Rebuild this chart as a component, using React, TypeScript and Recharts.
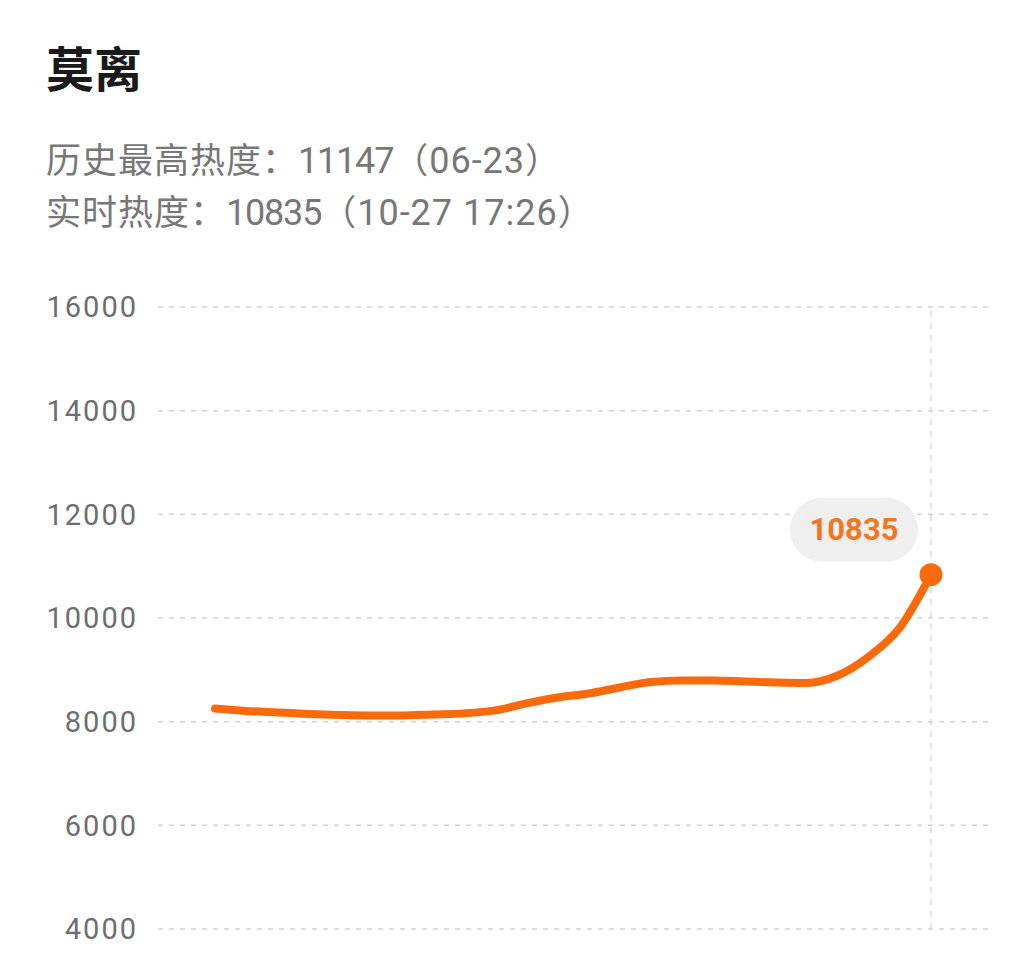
import React from 'react';
import { LineChart, Line, XAxis, YAxis, CartesianGrid, ReferenceLine } from 'recharts';

const title = '莫离';
const peakLabel = '历史最高热度：';
const peakValue = 11147;
const peakDate = '06-23';
const liveLabel = '实时热度：';
const liveValue = 10835;
const liveTime = '10-27 17:26';

const times = [
  '10-26 18:00', '10-26 19:00', '10-26 20:00', '10-26 21:00', '10-26 22:00', '10-26 23:00',
  '10-27 00:00', '10-27 01:00', '10-27 02:00', '10-27 03:00', '10-27 04:00', '10-27 05:00',
  '10-27 06:00', '10-27 07:00', '10-27 08:00', '10-27 09:00', '10-27 10:00', '10-27 11:00',
  '10-27 12:00', '10-27 13:00', '10-27 14:00', '10-27 15:00', '10-27 16:00', '10-27 17:26',
];
const heat = [
  8256, 8208, 8179, 8150, 8131, 8121, 8121, 8140, 8160, 8217, 8352, 8467,
  8544, 8660, 8765, 8794, 8794, 8775, 8756, 8746, 8890, 9256, 9813, 10835,
];
const yTicks = [4000, 6000, 8000, 10000, 12000, 14000, 16000];

const data = times.map((t, i) => ({ time: t, heat: heat[i] }));

const ORANGE = '#fa6a0a';
const NUM_FONT = "Roboto, 'Noto Sans CJK SC', sans-serif";
const CJK_FONT = "'Noto Sans CJK SC', Roboto, sans-serif";

const LastDot = (props: any) => {
  const { cx, cy, index, value } = props;
  if (index !== data.length - 1) return <g key={`d-${index}`} />;
  return (
    <g key={`d-${index}`}>
      <rect x={cx - 141} y={cy - 77} width={128} height={64} rx={32} fill="#efefef" />
      <text
        x={cx - 77}
        y={cy - 45}
        textAnchor="middle"
        dominantBaseline="central"
        fill="#f2761e"
        fontSize={31}
        fontWeight={700}
        fontFamily={NUM_FONT}
      >
        {value}
      </text>
      <circle cx={cx} cy={cy} r={11.5} fill={ORANGE} />
    </g>
  );
};

const subStyle: React.CSSProperties = {
  position: 'absolute',
  left: 46,
  fontSize: 35,
  lineHeight: '42px',
  letterSpacing: 1,
  color: '#777777',
  fontFamily: CJK_FONT,
  whiteSpace: 'nowrap',
};
const valueStyle: React.CSSProperties = { fontFamily: NUM_FONT, fontSize: 36, letterSpacing: -1.2 };
const dateStyle: React.CSSProperties = { fontFamily: NUM_FONT, fontSize: 36, letterSpacing: 1 };

export default function App() {
  return (
    <div
      style={{
        position: 'absolute',
        left: 0,
        top: 0,
        width: 1018,
        height: 960,
        background: '#ffffff',
        overflow: 'hidden',
      }}
    >
      <div
        style={{
          position: 'absolute',
          left: 46,
          top: 40,
          fontSize: 48,
          lineHeight: '52px',
          fontWeight: 700,
          color: '#1a1a1a',
          fontFamily: CJK_FONT,
        }}
      >
        {title}
      </div>
      <div style={{ ...subStyle, top: 137 }}>
        {peakLabel}
        <span style={valueStyle}>{peakValue}</span>
        （<span style={dateStyle}>{peakDate}</span>）
      </div>
      <div style={{ ...subStyle, top: 189 }}>
        {liveLabel}
        <span style={valueStyle}>{liveValue}</span>
        （<span style={dateStyle}>{liveTime}</span>）
      </div>
      <div style={{ position: 'absolute', left: 0, top: 0 }}>
        <LineChart
          width={1018}
          height={960}
          data={data}
          margin={{ top: 307, right: 30, bottom: 31, left: 0 }}
        >
          <CartesianGrid vertical={false} stroke="#d2d2d2" strokeDasharray="5 6" strokeWidth={1.5} />
          <XAxis dataKey="time" hide padding={{ left: 57, right: 57 }} />
          <YAxis
            domain={[4000, 16000]}
            ticks={yTicks}
            width={158}
            axisLine={false}
            tickLine={false}
            tickSize={0}
            tickMargin={20}
            interval={0}
            tick={{ fill: '#6e6e6e', fontSize: 29, fontFamily: NUM_FONT, letterSpacing: 2 }}
          />
          <ReferenceLine
            x={times[times.length - 1]}
            stroke="#dadada"
            strokeDasharray="6 6"
            strokeWidth={1.5}
          />
          <Line
            type="monotone"
            dataKey="heat"
            stroke={ORANGE}
            strokeWidth={8}
            strokeLinecap="round"
            dot={LastDot}
            activeDot={false}
            isAnimationActive={false}
          />
        </LineChart>
      </div>
    </div>
  );
}
